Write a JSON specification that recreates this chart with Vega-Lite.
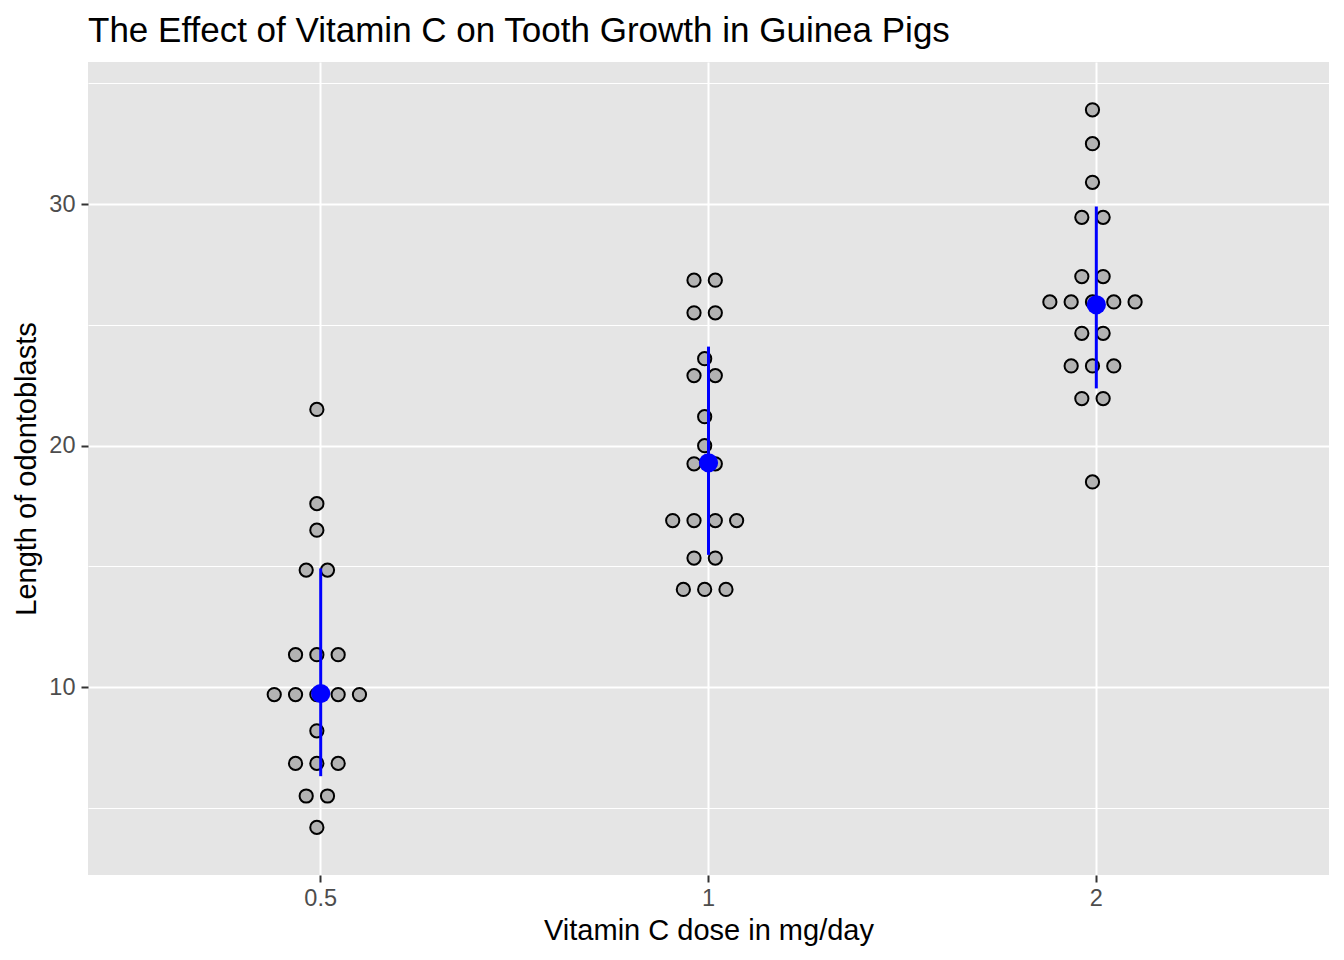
{
  "$schema": "https://vega.github.io/schema/vega-lite/v6.json",
  "autosize": "none",
  "width": 1241,
  "height": 813,
  "padding": {"left": 88, "top": 62, "right": 15, "bottom": 85},
  "background": "white",
  "config": {
    "font": "Liberation Sans",
    "view": {"fill": "#E5E5E5", "stroke": null}
  },
  "title": {
    "text": "The Effect of Vitamin C on Tooth Growth in Guinea Pigs",
    "anchor": "start",
    "frame": "group",
    "fontSize": 35,
    "fontWeight": "normal",
    "color": "black",
    "baseline": "alphabetic",
    "offset": -15
  },
  "datasets": {
    "dots": [
      {"dose": "0.5", "len": 4.2},
      {"dose": "0.5", "len": 5.5}, {"dose": "0.5", "len": 5.5},
      {"dose": "0.5", "len": 6.85}, {"dose": "0.5", "len": 6.85}, {"dose": "0.5", "len": 6.85},
      {"dose": "0.5", "len": 8.2},
      {"dose": "0.5", "len": 9.7}, {"dose": "0.5", "len": 9.7}, {"dose": "0.5", "len": 9.7}, {"dose": "0.5", "len": 9.7}, {"dose": "0.5", "len": 9.7},
      {"dose": "0.5", "len": 11.35}, {"dose": "0.5", "len": 11.35}, {"dose": "0.5", "len": 11.35},
      {"dose": "0.5", "len": 14.85}, {"dose": "0.5", "len": 14.85},
      {"dose": "0.5", "len": 16.5},
      {"dose": "0.5", "len": 17.6},
      {"dose": "0.5", "len": 21.5},
      {"dose": "1", "len": 14.05}, {"dose": "1", "len": 14.05}, {"dose": "1", "len": 14.05},
      {"dose": "1", "len": 15.35}, {"dose": "1", "len": 15.35},
      {"dose": "1", "len": 16.9}, {"dose": "1", "len": 16.9}, {"dose": "1", "len": 16.9}, {"dose": "1", "len": 16.9},
      {"dose": "1", "len": 19.25}, {"dose": "1", "len": 19.25},
      {"dose": "1", "len": 20.0},
      {"dose": "1", "len": 21.2},
      {"dose": "1", "len": 22.9}, {"dose": "1", "len": 22.9},
      {"dose": "1", "len": 23.6},
      {"dose": "1", "len": 25.5}, {"dose": "1", "len": 25.5},
      {"dose": "1", "len": 26.85}, {"dose": "1", "len": 26.85},
      {"dose": "2", "len": 18.5},
      {"dose": "2", "len": 21.95}, {"dose": "2", "len": 21.95},
      {"dose": "2", "len": 23.3}, {"dose": "2", "len": 23.3}, {"dose": "2", "len": 23.3},
      {"dose": "2", "len": 24.65}, {"dose": "2", "len": 24.65},
      {"dose": "2", "len": 25.95}, {"dose": "2", "len": 25.95}, {"dose": "2", "len": 25.95}, {"dose": "2", "len": 25.95}, {"dose": "2", "len": 25.95},
      {"dose": "2", "len": 27.0}, {"dose": "2", "len": 27.0},
      {"dose": "2", "len": 29.45}, {"dose": "2", "len": 29.45},
      {"dose": "2", "len": 30.9},
      {"dose": "2", "len": 32.5},
      {"dose": "2", "len": 33.9}
    ],
    "summary": [
      {"dose": "0.5", "mid": 9.74, "lo": 6.32, "hi": 14.92},
      {"dose": "1", "mid": 19.29, "lo": 15.48, "hi": 24.1},
      {"dose": "2", "mid": 25.83, "lo": 22.37, "hi": 29.9}
    ]
  },
  "encoding": {
    "x": {
      "field": "dose",
      "type": "ordinal",
      "sort": ["0.5", "1", "2"],
      "scale": {"type": "band", "paddingInner": 0, "paddingOuter": 0.1},
      "title": "Vitamin C dose in mg/day",
      "axis": {
        "bandPosition": 0.5,
        "labelAngle": 0,
        "domain": false,
        "grid": true,
        "gridColor": "white",
        "gridWidth": 2,
        "tickColor": "#333333",
        "tickWidth": 2,
        "tickSize": 7,
        "labelColor": "#4D4D4D",
        "labelFontSize": 23.5,
        "labelPadding": 4,
        "titleFontSize": 29,
        "titleFontWeight": "normal",
        "titleColor": "black",
        "titlePadding": 7
      }
    }
  },
  "layer": [
    {
      "data": {"name": "dots"},
      "transform": [
        {"window": [{"op": "count", "as": "one"}], "frame": [0, 0]},
        {"stack": "one", "groupby": ["dose", "len"], "offset": "center", "as": ["s0", "s1"]}
      ],
      "mark": {"type": "point", "shape": "circle", "filled": true, "fill": "#B3B3B3", "stroke": "black", "strokeWidth": 2, "size": 175, "opacity": 1},
      "encoding": {
        "xOffset": {"field": "s0", "type": "quantitative", "scale": {"domain": [-6.92, 11.28], "zero": false, "nice": false}},
        "y": {
          "field": "len",
          "type": "quantitative",
          "scale": {"domain": [2.23, 35.88], "nice": false, "zero": false},
          "title": "Length of odontoblasts",
          "axis": {
            "values": [5, 10, 15, 20, 25, 30, 35],
            "labelExpr": "datum.value % 10 === 0 ? datum.label : ''",
            "domain": false,
            "grid": true,
            "gridColor": "white",
            "gridWidth": {"condition": {"test": "datum.value % 10 === 0", "value": 2}, "value": 1},
            "tickColor": "#333333",
            "tickWidth": 2,
            "tickSize": 7,
            "tickOpacity": {"condition": {"test": "datum.value % 10 === 0", "value": 1}, "value": 0},
            "labelColor": "#4D4D4D",
            "labelFontSize": 23.5,
            "labelPadding": 6,
            "titleFontSize": 29,
            "titleFontWeight": "normal",
            "titleColor": "black",
            "titlePadding": 7
          }
        }
      }
    },
    {
      "data": {"name": "summary"},
      "mark": {"type": "rule", "color": "blue", "strokeWidth": 3},
      "encoding": {
        "y": {"field": "lo", "type": "quantitative"},
        "y2": {"field": "hi"}
      }
    },
    {
      "data": {"name": "summary"},
      "mark": {"type": "point", "shape": "circle", "filled": true, "color": "blue", "size": 370, "opacity": 1},
      "encoding": {
        "y": {"field": "mid", "type": "quantitative"}
      }
    }
  ]
}
